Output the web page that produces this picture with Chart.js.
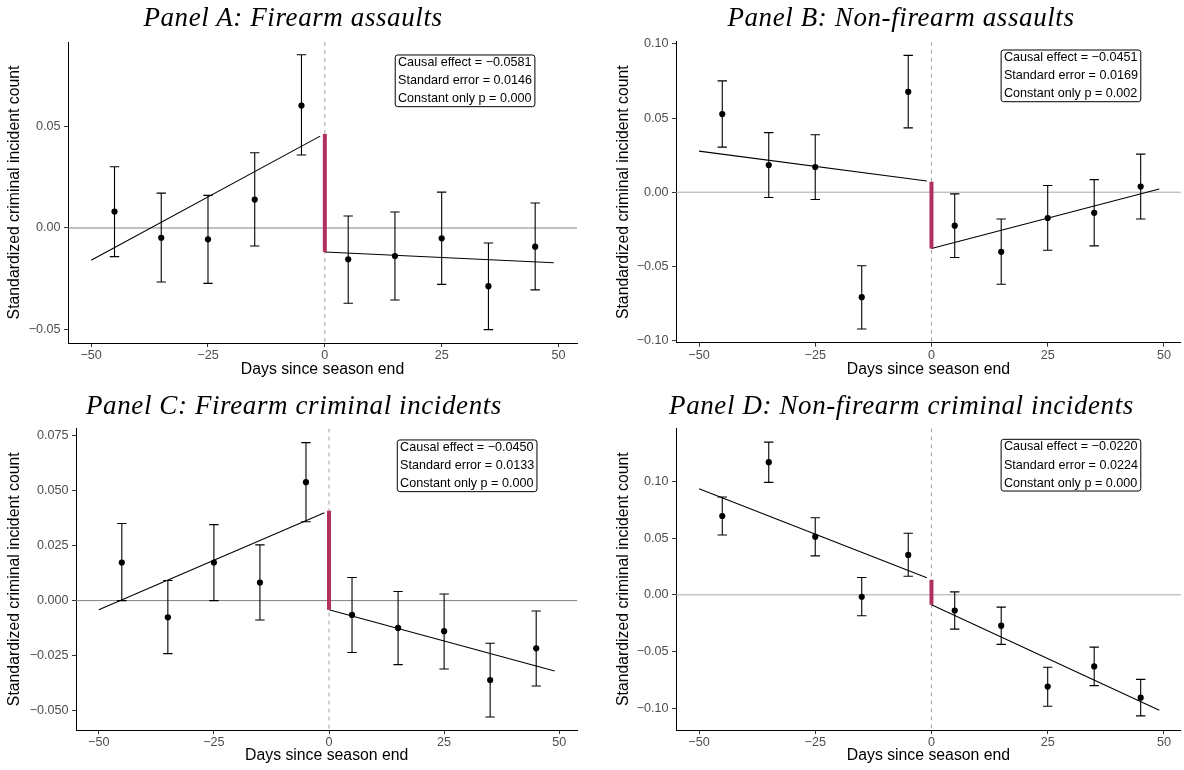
<!DOCTYPE html>
<html><head><meta charset="utf-8">
<script src="https://cdn.jsdelivr.net/npm/chart.js@4.4.0/dist/chart.umd.min.js"></script>
<style>
html,body{margin:0;padding:0;background:#fff;}
#wrap{position:relative;width:1184px;height:770px;overflow:hidden;background:#fff;}
.panel{position:absolute;width:592px;height:385px;}
.panel canvas{position:absolute;left:0;top:0;}
.ptitle{position:absolute;white-space:nowrap;font-family:"Liberation Serif",serif;font-style:italic;font-size:27px;line-height:27px;letter-spacing:0.6px;color:#000;transform:translateX(-50%);}
</style></head><body>
<div id="wrap"></div>
<script>
// ---------- data ----------
const days = [-45,-35,-25,-15,-5,5,15,25,35,45];
const xTicks = [-50,-25,0,25,50];
const xTickLabels = ['\u221250','\u221225','0','25','50'];

const titles = ['Panel A: Firearm assaults','Panel B: Non-firearm assaults','Panel C: Firearm criminal incidents','Panel D: Non-firearm criminal incidents'];

// Panel A
const estA = [0.0081,-0.0048,-0.0056,0.0140,0.0604,-0.0154,-0.0138,-0.0051,-0.0287,-0.0092];
const loA  = [-0.0141,-0.0266,-0.0273,-0.0089,0.0360,-0.0371,-0.0355,-0.0278,-0.0501,-0.0305];
const hiA  = [0.0302,0.0172,0.0161,0.0371,0.0854,0.0059,0.0079,0.0177,-0.0074,0.0123];
const preA  = [[-50,-0.0159],[-1,0.0453]];
const postA = [[0,-0.0118],[49,-0.0171]];
const jumpA = [[0,0.0463],[0,-0.0118]];
const yTicksA = [-0.05,0,0.05];
const yLabelsA = ['\u22120.05','0.00','0.05'];
const boxA = ['Causal effect = \u22120.0581','Standard error = 0.0146','Constant only p = 0.000'];

// Panel B
const estB = [0.0527,0.0183,0.0170,-0.0708,0.0677,-0.0226,-0.0402,-0.0174,-0.0139,0.0038];
const loB  = [0.0304,-0.0036,-0.0049,-0.0923,0.0434,-0.0440,-0.0621,-0.0391,-0.0362,-0.0181];
const hiB  = [0.0751,0.0402,0.0387,-0.0496,0.0923,-0.0011,-0.0181,0.0045,0.0085,0.0257];
const preB  = [[-50,0.0277],[-1,0.0075]];
const postB = [[0,-0.0380],[49,0.0022]];
const jumpB = [[0,0.0071],[0,-0.0380]];
const yTicksB = [-0.10,-0.05,0,0.05,0.10];
const yLabelsB = ['\u22120.10','\u22120.05','0.00','0.05','0.10'];
const boxB = ['Causal effect = \u22120.0451','Standard error = 0.0169','Constant only p = 0.002'];

// Panel C
const estC = [0.0173,-0.0076,0.0173,0.0082,0.0538,-0.0065,-0.0124,-0.0139,-0.0361,-0.0217];
const loC  = [0.0000,-0.0241,0.0000,-0.0088,0.0358,-0.0236,-0.0291,-0.0311,-0.0529,-0.0388];
const hiC  = [0.0350,0.0091,0.0345,0.0253,0.0718,0.0105,0.0041,0.0030,-0.0194,-0.0047];
const preC  = [[-50,-0.0042],[-1,0.0399]];
const postC = [[0,-0.0042],[49,-0.0320]];
const jumpC = [[0,0.0408],[0,-0.0042]];
const yTicksC = [-0.05,-0.025,0,0.025,0.05,0.075];
const yLabelsC = ['\u22120.050','\u22120.025','0.000','0.025','0.050','0.075'];
const boxC = ['Causal effect = \u22120.0450','Standard error = 0.0133','Constant only p = 0.000'];

// Panel D
const estD = [0.0694,0.1168,0.0512,-0.0018,0.0351,-0.0138,-0.0272,-0.0808,-0.0630,-0.0905];
const loD  = [0.0527,0.0990,0.0343,-0.0184,0.0164,-0.0302,-0.0436,-0.0981,-0.0799,-0.1066];
const hiD  = [0.0861,0.1344,0.0679,0.0152,0.0542,0.0026,-0.0108,-0.0638,-0.0460,-0.0744];
const preD  = [[-50,0.0934],[-1,0.0150]];
const postD = [[0,-0.0088],[49,-0.1016]];
const jumpD = [[0,0.0132],[0,-0.0088]];
const yTicksD = [-0.10,-0.05,0,0.05,0.10];
const yLabelsD = ['\u22120.10','\u22120.05','0.00','0.05','0.10'];
const boxD = ['Causal effect = \u22120.0220','Standard error = 0.0224','Constant only p = 0.000'];

// ---------- layout / styling ----------
const panelDefs = [
  {ox:0,   oy:0,   est:estA,lo:loA,hi:hiA,pre:preA,post:postA,jump:jumpA,yT:yTicksA,yL:yLabelsA,box:boxA,
   yMin:-0.0567,yMax:0.0917,xMin:-54.95,xMax:53.95, cl:68, ct:42,   cb:343,   cr:577,   padL:0,  tcx:293,  tbase:26.7, xtc:369.3, boxTop:0.0853, zero:'#808080'},
  {ox:592, oy:0,   est:estB,lo:loB,hi:hiB,pre:preB,post:postB,jump:jumpB,yT:yTicksB,yL:yLabelsB,box:boxB,
   yMin:-0.1015,yMax:0.1015,xMin:-54.95,xMax:53.65, cl:84, ct:41.7, cb:342.7, cr:592,   padL:17, tcx:309,  tbase:26.7, xtc:369.3, boxTop:0.0959, zero:'#a8a8a8'},
  {ox:0,   oy:385, est:estC,lo:loC,hi:hiC,pre:preC,post:postC,jump:jumpC,yT:yTicksC,yL:yLabelsC,box:boxC,
   yMin:-0.0588,yMax:0.0782,xMin:-54.95,xMax:53.95, cl:76, ct:43.5, cb:345,   cr:577.4, padL:0,  tcx:294,  tbase:29.3, xtc:371,   boxTop:0.0730, zero:'#808080'},
  {ox:592, oy:385, est:estD,lo:loD,hi:hiD,pre:preD,post:postD,jump:jumpD,yT:yTicksD,yL:yLabelsD,box:boxD,
   yMin:-0.119,yMax:0.1466,xMin:-54.95,xMax:53.65, cl:84, ct:43.3, cb:345,   cr:592,   padL:17, tcx:309.5,tbase:29.3, xtc:371,   boxTop:0.1369, zero:'#a8a8a8'}
];

const W = 592, H = 385;
const TICK_FONT = {family:'"Liberation Sans", Arial, sans-serif', size:12.6};
const TITLE_FONT = {family:'"Liberation Sans", Arial, sans-serif', size:15.8, lineHeight:1.2};
const MAROON = '#B03060';

function makePlugin(p){
  return {
    id:'extras',
    beforeDatasetsDraw(chart){
      const {ctx, chartArea:a, scales:{x,y}} = chart;
      ctx.save();
      ctx.beginPath(); ctx.rect(a.left,a.top,a.right-a.left,a.bottom-a.top); ctx.clip();
      const y0 = y.getPixelForValue(0);
      ctx.strokeStyle = p.zero; ctx.lineWidth = 1;
      ctx.beginPath(); ctx.moveTo(a.left,y0); ctx.lineTo(a.right,y0); ctx.stroke();
      const x0 = x.getPixelForValue(0);
      ctx.strokeStyle = '#a0a0a0'; ctx.setLineDash([4,4]);
      ctx.beginPath(); ctx.moveTo(x0,a.top); ctx.lineTo(x0,a.bottom); ctx.stroke();
      ctx.setLineDash([]);
      ctx.strokeStyle = '#000'; ctx.lineWidth = 1.1;
      days.forEach((d,i)=>{
        const px = x.getPixelForValue(d), pl = y.getPixelForValue(p.lo[i]), ph = y.getPixelForValue(p.hi[i]);
        ctx.beginPath();
        ctx.moveTo(px,pl); ctx.lineTo(px,ph);
        ctx.moveTo(px-4.7,pl); ctx.lineTo(px+4.7,pl);
        ctx.moveTo(px-4.7,ph); ctx.lineTo(px+4.7,ph);
        ctx.stroke();
      });
      ctx.restore();
    },
    afterDraw(chart){
      const {ctx, scales:{x,y}} = chart;
      ctx.save();
      ctx.font = '12.6px "Liberation Sans", Arial, sans-serif';
      const pad = 2.8, lh = 18.1;
      const tw = Math.max(...p.box.map(t=>ctx.measureText(t).width));
      const bw = tw + 2*pad, bh = 51.7;
      const cx = x.getPixelForValue(30);
      const top = y.getPixelForValue(p.boxTop);
      const left = cx - bw/2;
      ctx.fillStyle = '#fff'; ctx.strokeStyle = '#000'; ctx.lineWidth = 1;
      ctx.beginPath();
      if (ctx.roundRect) ctx.roundRect(left, top, bw, bh, 2.5); else ctx.rect(left, top, bw, bh);
      ctx.fill(); ctx.stroke();
      ctx.fillStyle = '#000'; ctx.textBaseline = 'middle'; ctx.textAlign = 'left';
      p.box.forEach((t,i)=> ctx.fillText(t, left+pad, top + 7.6 + i*lh));
      ctx.restore();
    }
  };
}

const wrap = document.getElementById('wrap');
panelDefs.forEach((p, k)=>{
  const div = document.createElement('div');
  div.className = 'panel'; div.style.left = p.ox+'px'; div.style.top = p.oy+'px';
  const cv = document.createElement('canvas');
  cv.width = W; cv.height = H; cv.style.width = W+'px'; cv.style.height = H+'px';
  div.appendChild(cv);
  const t = document.createElement('div');
  t.className = 'ptitle'; t.textContent = titles[k];
  t.style.left = p.tcx+'px'; t.style.top = (p.tbase - 22.6)+'px';
  div.appendChild(t);
  wrap.appendChild(div);

  const toPts = arr => arr.map(v=>({x:v[0], y:v[1]}));
  new Chart(cv.getContext('2d'), {
    type:'scatter',
    data:{datasets:[
      {data: days.map((d,i)=>({x:d, y:p.est[i]})), pointRadius:3.1, pointHoverRadius:3.1, backgroundColor:'#000', borderWidth:0, showLine:false},
      {data: toPts(p.jump), showLine:true, pointRadius:0, borderColor:MAROON, borderWidth:4, borderCapStyle:'butt'},
      {data: toPts(p.pre), showLine:true, pointRadius:0, borderColor:'#000', borderWidth:1.1},
      {data: toPts(p.post), showLine:true, pointRadius:0, borderColor:'#000', borderWidth:1.1}
    ]},
    options:{
      responsive:false, animation:false, devicePixelRatio:1,
      layout:{padding:{left:p.padL, top:p.ct, right:W - p.cr, bottom:0}},
      plugins:{legend:{display:false}, tooltip:{enabled:false}, title:{display:false}},
      events:[],
      scales:{
        x:{type:'linear', position:'bottom', min:p.xMin, max:p.xMax,
           afterBuildTicks: s=>{ s.ticks = xTicks.map(v=>({value:v})); },
           afterFit: s=>{ s.height = H - p.cb; },
           ticks:{autoSkip:false, maxRotation:0, padding:1, color:'#4d4d4d', font:TICK_FONT, callback:(v,i)=>xTickLabels[i]},
           grid:{drawOnChartArea:false, drawTicks:true, tickLength:4, color:'#333', lineWidth:1},
           border:{display:true, color:'#000', width:1},
           title:{display:true, text:'Days since season end', color:'#000', font:TITLE_FONT, padding:{top:2, bottom:H - p.xtc - 9.48}}
        },
        y:{type:'linear', position:'left', min:p.yMin, max:p.yMax,
           afterBuildTicks: s=>{ s.ticks = p.yT.map(v=>({value:v})); },
           afterFit: s=>{ s.width = p.cl - p.padL; },
           ticks:{autoSkip:false, padding:3.5, color:'#4d4d4d', font:TICK_FONT, callback:(v,i)=>p.yL[i]},
           grid:{drawOnChartArea:false, drawTicks:true, tickLength:4, color:'#333', lineWidth:1},
           border:{display:true, color:'#000', width:1},
           title:{display:true, text:'Standardized criminal incident count', color:'#000', font:TITLE_FONT, padding:{top:5.5, bottom:2}}
        }
      }
    },
    plugins:[makePlugin(p)]
  });
});
</script>
</body></html>
